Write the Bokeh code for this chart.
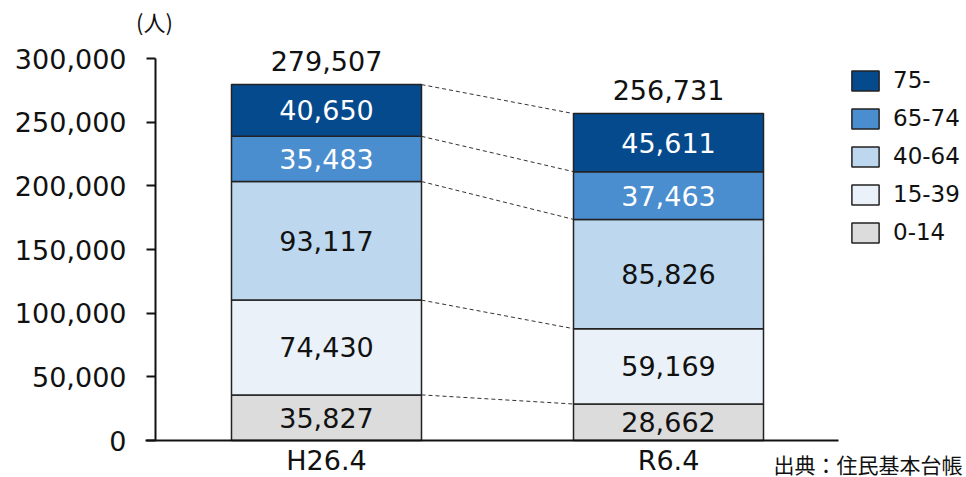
from bokeh.plotting import figure
from bokeh.models import (Range1d, FixedTicker, NumeralTickFormatter,
                          Legend, LegendItem, Label)
from bokeh.core.properties import value
from bokeh.embed import file_html
from bokeh.resources import INLINE

# ---- data ----
categories = ["H26.4", "R6.4"]
age_groups = ["0-14", "15-39", "40-64", "65-74", "75-"]
values_h26 = [35827, 74430, 93117, 35483, 40650]
values_r6 = [28662, 59169, 85826, 37463, 45611]
totals = [279507, 256731]
y_ticks = [0, 50000, 100000, 150000, 200000, 250000, 300000]
unit_text = "(人)"
source_text = "出典：住民基本台帳"

# ---- style / layout ----
colors = ["#dcdcdc", "#eaf1f9", "#bdd7ee", "#4a8ecf", "#064a8e"]
text_colors = ["#111111", "#111111", "#111111", "#ffffff", "#ffffff"]
FONT = "DejaVu Sans"
JFONT = "Noto Sans CJK JP"
W, H = 966, 477
axis_px = 155                 # y-axis line (page px) = category slot 0 start
u = 342                       # px per category slot
y0_px, y300_px = 440, 58      # page px of 0 and 300,000
ppu = (y0_px - y300_px) / 300000.0
bar_w = 190 / u

def sx(px):  # page px -> x data
    return (px - axis_px) / u

def sy(px):  # page px -> y data
    return (y0_px - px) / ppu

xpos = [i + 0.5 for i in range(len(categories))]

p = figure(width=W, height=H,
           x_range=Range1d(sx(0), sx(W)),
           y_range=Range1d(sy(H), sy(0)), output_backend="svg",
           toolbar_location=None, x_axis_location=None,
           min_border_left=0, min_border_right=0,
           min_border_top=0, min_border_bottom=0)
p.outline_line_color = None
p.grid.visible = False

ax = p.yaxis[0]
ax.fixed_location = 0
ax.bounds = (0, 300000)
ax.ticker = FixedTicker(ticks=y_ticks)
ax.formatter = NumeralTickFormatter(format="0,0")
ax.major_tick_out = 9
ax.major_tick_in = 0
ax.minor_tick_line_color = None
ax.axis_line_width = 2
ax.major_tick_line_width = 2
ax.axis_line_color = "#111111"
ax.major_tick_line_color = "#111111"
ax.major_label_text_font = FONT
ax.major_label_text_font_size = "27px"
ax.major_label_text_color = "#111111"
ax.major_label_standoff = 20

# stacked bars
series = [values_h26, values_r6]
renderers = []
for gi, g in enumerate(age_groups):
    bottoms = [sum(s[:gi]) for s in series]
    tops = [sum(s[:gi + 1]) for s in series]
    r = p.vbar(x=xpos, bottom=bottoms, top=tops, width=bar_w,
               fill_color=colors[gi], line_color="#222222", line_width=1.5)
    renderers.append(r)
    mids = [(b + t) / 2 for b, t in zip(bottoms, tops)]
    labels = [f"{s[gi]:,}" for s in series]
    p.text(x=xpos, y=mids, text=labels, text_align="center",
           text_baseline="middle", text_font=value(FONT), text_font_size="27px",
           text_color=text_colors[gi])

# totals
p.text(x=xpos, y=[t + 24 / ppu for t in totals], text=[f"{t:,}" for t in totals],
       text_align="center", text_baseline="middle", text_font=value(FONT),
       text_font_size="27px", text_color="#111111")

# dashed connectors
x_left_edge = xpos[0] + bar_w / 2
x_right_edge = xpos[1] - bar_w / 2
cum_l = [sum(values_h26[:i + 1]) for i in range(len(age_groups))]
cum_r = [sum(values_r6[:i + 1]) for i in range(len(age_groups))]
p.segment(x0=[x_left_edge] * 5, y0=cum_l, x1=[x_right_edge] * 5, y1=cum_r,
          line_color="#333333", line_width=1, line_dash="4 3")

# x axis line
p.segment(x0=[sx(145)], y0=[0], x1=[sx(838)], y1=[0], line_color="#111111", line_width=2)

# category labels
p.text(x=xpos, y=[sy(460)] * 2, text=categories, text_align="center",
       text_baseline="middle", text_font=value(FONT), text_font_size="27px",
       text_color="#111111")

# unit and source
p.add_layout(Label(x=sx(154), y=sy(20), text=unit_text, text_align="center",
                   text_baseline="middle", text_font=JFONT, text_font_size="22px",
                   text_color="#111111"))
p.add_layout(Label(x=sx(962), y=sy(463), text=source_text, text_align="right",
                   text_baseline="middle", text_font=JFONT, text_font_size="21px",
                   text_color="#111111"))

# legend (inside frame)
items = [LegendItem(label=age_groups[i], renderers=[renderers[i]])
         for i in reversed(range(len(age_groups)))]
legend = Legend(items=items, location=(848, H - 245), glyph_width=34,
                glyph_height=25, label_height=25, label_standoff=11, spacing=12,
                padding=0, margin=0, border_line_color=None, background_fill_alpha=0,
                label_text_font=FONT, label_text_font_size="23px",
                label_text_color="#111111")
p.add_layout(legend)

open("out.html", "w").write(file_html(p, INLINE))
